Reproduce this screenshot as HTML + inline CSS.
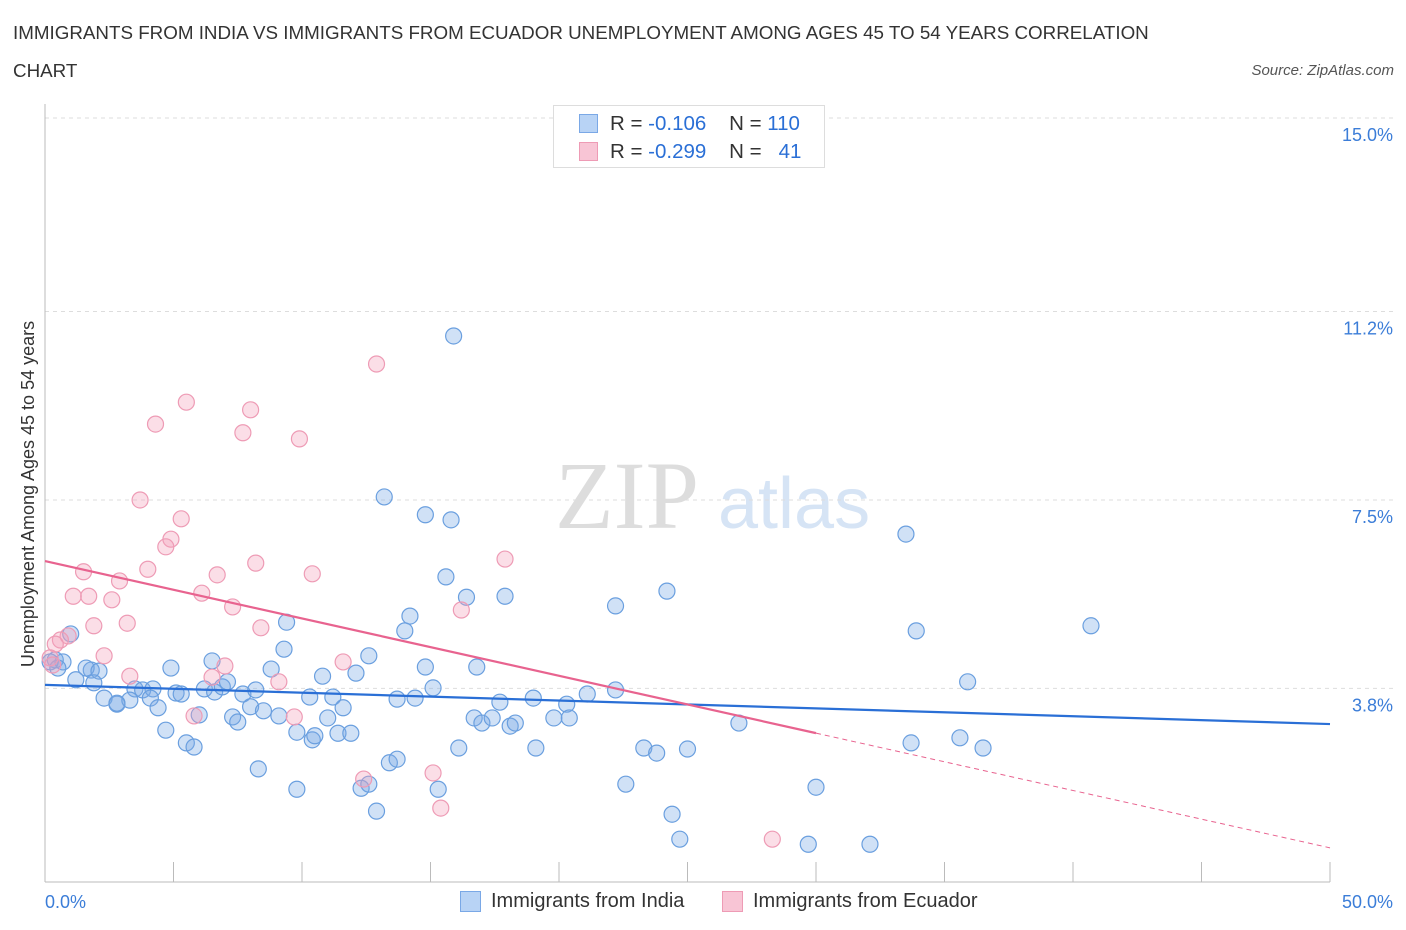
<!DOCTYPE html>
<html><head><meta charset="utf-8">
<style>
body{margin:0;background:#fff;font-family:"Liberation Sans",sans-serif;}
#wrap{position:relative;width:1406px;height:930px;overflow:hidden;}
.t{position:absolute;white-space:nowrap;}
</style></head>
<body>
<div id="wrap">
<div class="t" style="left:13px;top:22px;font-size:18.8px;color:#333;">IMMIGRANTS FROM INDIA VS IMMIGRANTS FROM ECUADOR UNEMPLOYMENT AMONG AGES 45 TO 54 YEARS CORRELATION</div>
<div class="t" style="left:13px;top:60px;font-size:18.8px;color:#333;">CHART</div>
<div class="t" style="right:12px;top:62px;font-size:15px;color:#555;font-style:italic;">Source: ZipAtlas.com</div>
<svg id="chart" width="1406" height="930" style="position:absolute;left:0;top:0"></svg>
</div>
<script>
const xTicks=[0,5,10,15,20,25,30,35,40,45,50];
const yTicks=[15.0,11.2,7.5,3.8];
const yTickLabels=["15.0%","11.2%","7.5%","3.8%"];
const xTickLabels=["0.0%","50.0%"];
const indiaX=[15.9,13.2,14.8,15.8,33.5,15.6,17.9,16.4,14.2,22.2,24.2,40.7,33.9,14.0,9.4,1.0,0.4,0.7,1.8,1.6,2.1,4.9,6.5,9.3,12.6,14.8,16.8,8.8,10.8,12.1,1.2,1.9,3.5,3.8,4.2,5.1,5.3,6.2,6.6,6.9,7.1,7.7,8.2,10.3,11.2,13.7,14.4,15.1,17.7,19.0,20.3,21.1,22.2,2.3,2.8,3.3,4.1,4.4,6.0,7.3,7.5,8.0,8.5,9.1,9.8,10.4,10.5,11.0,11.4,11.9,11.6,16.7,17.0,17.4,18.1,18.3,19.8,20.4,27.0,4.7,5.5,5.8,16.1,19.1,23.3,23.8,25.0,33.7,35.6,36.5,35.9,8.3,13.4,13.7,9.8,12.3,12.6,15.3,22.6,30.0,12.9,24.4,24.7,29.7,32.1,0.2,0.5,2.8];
const indiaY=[10.72,7.56,7.21,7.11,6.83,5.99,5.61,5.59,5.22,5.42,5.71,5.03,4.93,4.93,5.10,4.87,4.36,4.32,4.16,4.20,4.14,4.20,4.34,4.57,4.44,4.22,4.22,4.18,4.04,4.10,3.97,3.91,3.79,3.77,3.79,3.71,3.69,3.79,3.73,3.83,3.93,3.69,3.77,3.63,3.63,3.59,3.61,3.81,3.53,3.61,3.49,3.69,3.77,3.61,3.49,3.57,3.61,3.42,3.28,3.24,3.14,3.44,3.36,3.26,2.94,2.79,2.87,3.22,2.92,2.92,3.42,3.22,3.12,3.22,3.06,3.12,3.22,3.22,3.12,2.98,2.73,2.65,2.63,2.63,2.63,2.53,2.61,2.73,2.83,2.63,3.93,2.22,2.34,2.41,1.82,1.84,1.92,1.82,1.92,1.86,1.39,1.33,0.84,0.74,0.74,4.32,4.20,3.51];
const ecuadorX=[12.9,5.5,8.0,4.3,7.7,9.9,3.7,5.3,4.9,4.7,4.0,8.2,17.9,1.5,10.4,6.7,2.9,6.1,1.1,1.7,2.6,7.3,16.2,1.9,3.2,8.4,0.9,0.6,0.4,2.3,3.3,7.0,6.5,9.1,11.6,5.8,9.7,12.4,15.1,15.4,28.3,0.2,0.3];
const ecuadorY=[10.17,9.42,9.27,8.99,8.82,8.70,7.50,7.13,6.73,6.58,6.14,6.26,6.34,6.09,6.05,6.03,5.91,5.67,5.61,5.61,5.54,5.40,5.34,5.03,5.08,4.99,4.83,4.75,4.67,4.44,4.04,4.24,4.02,3.93,4.32,3.26,3.24,2.02,2.14,1.45,0.84,4.40,4.26];
const indiaTrend=[3.87,3.10];
const ecuadorTrend=[6.30,0.67];
const ecuadorSolidEnd=30;

const NS="http://www.w3.org/2000/svg";
const svg=document.getElementById('chart');
const X=v=>45+v*25.7;
const Y=v=>118+(15-v)*50.93;
function mk(tag,attrs,parent){const e=document.createElementNS(NS,tag);for(const k in attrs)e.setAttribute(k,attrs[k]);(parent||svg).appendChild(e);return e;}
let wm=mk('text',{x:555,y:528,'font-size':96,'font-family':'Liberation Serif, serif',fill:'#ddd'});wm.textContent='ZIP';


let wm2=mk('text',{x:718,y:528,'font-size':72,'font-family':'Liberation Sans, sans-serif',fill:'#d6e4f5'});wm2.textContent='atlas';


yTicks.forEach((v,i)=>{
 const g=mk('line',{x1:45,x2:1393,y1:Y(v),y2:Y(v),stroke:'#ddd','stroke-dasharray':'4,4'});
 
 
 const t=mk('text',{x:1393,y:Y(v)+23,'text-anchor':'end','font-size':18,fill:'#3b7dd8'});t.textContent=yTickLabels[i];
 
 
});
const ax=mk('line',{x1:45,x2:45,y1:104,y2:882,stroke:'#bbb'});


const bx=mk('line',{x1:45,x2:1330,y1:882,y2:882,stroke:'#bbb'});


xTicks.forEach(v=>{const l=mk('line',{x1:X(v),x2:X(v),y1:862,y2:882,stroke:'#bbb'});
 
 });
let xl=mk('text',{x:45,y:908,'font-size':18,fill:'#3b7dd8'});xl.textContent=xTickLabels[0];


let xr=mk('text',{x:1393,y:908,'font-size':18,fill:'#3b7dd8','text-anchor':'end'});xr.textContent=xTickLabels[1];


let yt=mk('text',{x:0,y:0,'font-size':18,fill:'#333','text-anchor':'middle',transform:'translate(34,494) rotate(-90)'});yt.textContent='Unemployment Among Ages 45 to 54 years';


indiaX.forEach((v,i)=>{const c=mk('circle',{cx:X(v),cy:Y(indiaY[i]),r:8,fill:'rgba(120,170,230,0.35)',stroke:'#6a9fdf','stroke-width':1.2});
 
 });
ecuadorX.forEach((v,i)=>{const c=mk('circle',{cx:X(v),cy:Y(ecuadorY[i]),r:8,fill:'rgba(244,160,185,0.35)',stroke:'#ee9bb5','stroke-width':1.2});
 
 });
const it=mk('line',{x1:X(0),y1:Y(indiaTrend[0]),x2:X(50),y2:Y(indiaTrend[1]),stroke:'#2a6fd6','stroke-width':2.2});


const ey=x=>ecuadorTrend[0]+(ecuadorTrend[1]-ecuadorTrend[0])*x/50;
const es=mk('line',{x1:X(0),y1:Y(ey(0)),x2:X(ecuadorSolidEnd),y2:Y(ey(ecuadorSolidEnd)),stroke:'#e8638f','stroke-width':2.2});


const ed=mk('line',{x1:X(ecuadorSolidEnd),y1:Y(ey(ecuadorSolidEnd)),x2:X(50),y2:Y(ey(50)),stroke:'#e8638f','stroke-width':1,'stroke-dasharray':'5,4'});


</script>
<div class="t" style="left:553px;top:105px;width:270px;height:61px;border:1px solid #ddd;background:#fff;">
 <div class="t" style="left:25px;top:8px;width:19px;height:19px;background:#b8d3f5;border:1px solid #7aa8e6;box-sizing:border-box;"></div>
 <div class="t" style="left:56px;top:6px;font-size:20.5px;color:#333;">R = <span style="color:#2a6fd6">-0.106</span>&nbsp;&nbsp;&nbsp; N = <span style="color:#2a6fd6">110</span></div>
 <div class="t" style="left:25px;top:36px;width:19px;height:19px;background:#f8c5d5;border:1px solid #ee9bb5;box-sizing:border-box;"></div>
 <div class="t" style="left:56px;top:34px;font-size:20.5px;color:#333;">R = <span style="color:#2a6fd6">-0.299</span>&nbsp;&nbsp;&nbsp; N = &nbsp;&nbsp;<span style="color:#2a6fd6">41</span></div>
</div>
<div class="t" style="left:460px;top:891px;width:21px;height:21px;background:#b8d3f5;border:1px solid #7aa8e6;box-sizing:border-box;"></div>
<div class="t" style="left:491px;top:890px;font-size:20px;color:#333;">Immigrants from India</div>
<div class="t" style="left:722px;top:891px;width:21px;height:21px;background:#f8c5d5;border:1px solid #ee9bb5;box-sizing:border-box;"></div>
<div class="t" style="left:753px;top:890px;font-size:20px;color:#333;">Immigrants from Ecuador</div>
</body></html>
